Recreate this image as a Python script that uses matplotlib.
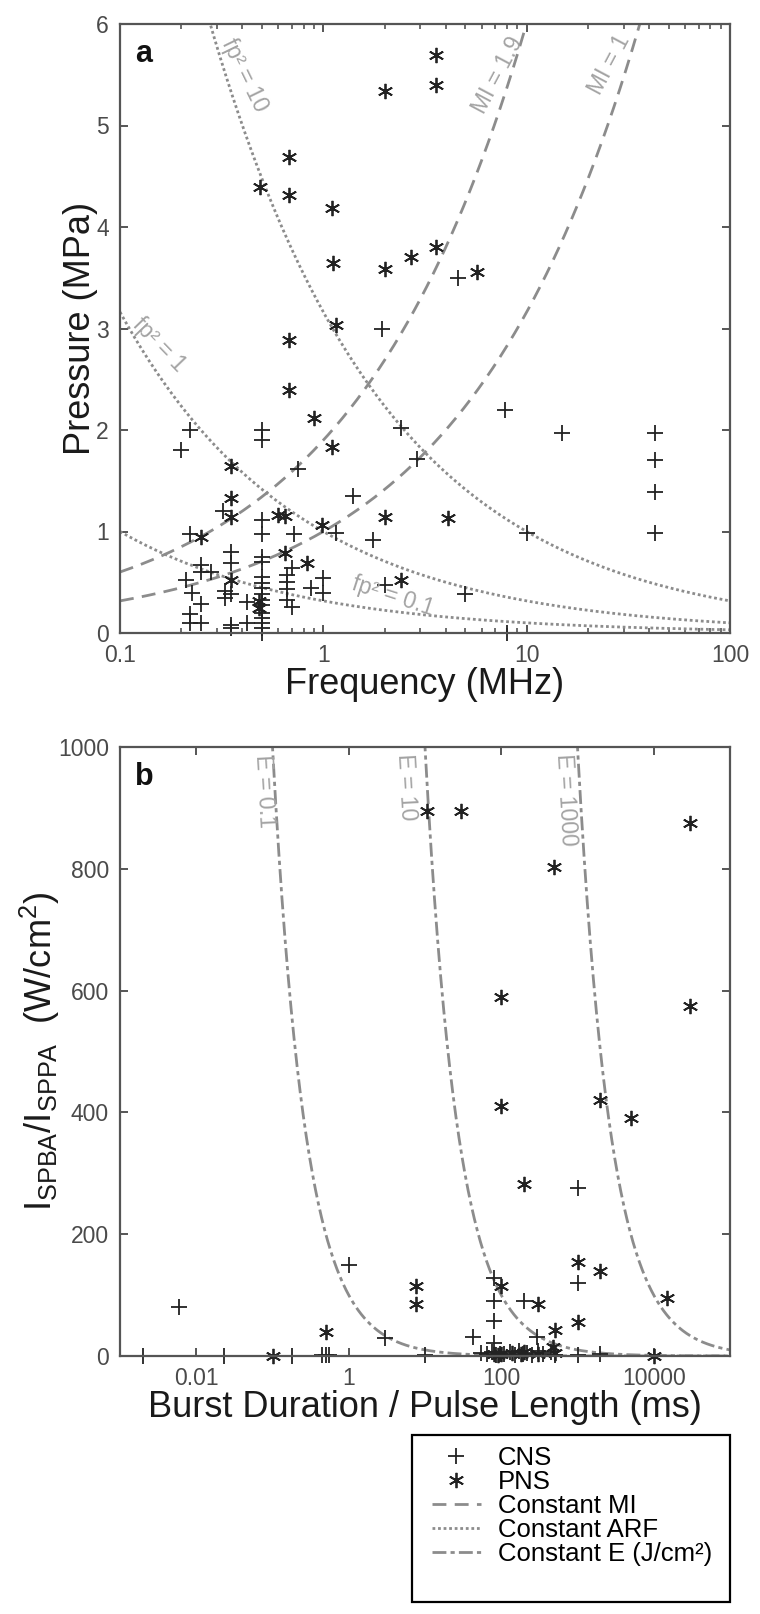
import numpy as np
import matplotlib
matplotlib.use('Agg')
import matplotlib.pyplot as plt
from matplotlib.lines import Line2D
from matplotlib.patches import Rectangle

plt.rcParams['font.family'] = ['Liberation Sans', 'DejaVu Sans']
plt.rcParams['mathtext.fontset'] = 'custom'
plt.rcParams['mathtext.rm'] = 'Liberation Sans'
plt.rcParams['mathtext.it'] = 'Liberation Sans:italic'

# ---- panel a: frequency (MHz) vs pressure (MPa)
cns_freq = [0.22, 0.2, 0.5, 0.5, 0.75, 0.32, 1.4, 0.5, 0.5, 0.72, 1.16, 1.76, 0.22,
            0.35, 0.35, 1.0, 1.0, 0.87, 2.0, 5.0, 8.0, 7.8, 15, 43, 43, 43, 43, 10,
            2.9, 2.4, 1.95, 4.6, 0.21, 0.225, 0.25, 0.22, 0.22, 0.25, 0.25, 0.25, 0.28,
            0.33, 0.35, 0.33, 0.35, 0.35, 0.42, 0.42,
            0.5, 0.5, 0.5, 0.5, 0.5, 0.5, 0.5, 0.5, 0.5, 0.5, 0.5, 0.5, 0.5,
            0.7, 0.66, 0.66, 0.66, 0.66, 0.7]
cns_pres = [2.0, 1.8, 2.0, 1.9, 1.62, 1.2, 1.35, 1.11, 0.98, 0.98, 0.99, 0.92, 0.98,
            0.8, 0.69, 0.54, 0.39, 0.44, 0.47, 0.38, 0.0, 2.2, 1.97, 1.97, 1.7, 1.39, 0.99, 0.99,
            1.71, 2.02, 3.0, 3.5, 0.52, 0.39, 0.29, 0.19, 0.1, 0.1, 0.67, 0.6, 0.6,
            0.41, 0.38, 0.34, 0.08, 0.05, 0.31, 0.1,
            0.75, 0.7, 0.55, 0.49, 0.44, 0.38, 0.33, 0.28, 0.2, 0.15, 0.1, 0.05, 0.0,
            0.64, 0.57, 0.5, 0.43, 0.33, 0.26]

pns_freq = [0.9, 1.1, 0.35, 0.35, 0.35, 0.6, 0.65, 0.98, 2.0, 0.25, 0.65, 0.83, 0.35,
            2.4, 4.1, 3.6, 3.6, 2.0, 3.6, 2.7, 2.0, 5.7, 0.68, 0.49, 0.68, 1.1, 1.12,
            1.16, 0.68, 0.68, 0.48, 0.48]
pns_pres = [2.12, 1.83, 1.65, 1.33, 1.14, 1.16, 1.15, 1.06, 1.14, 0.95, 0.79, 0.69, 0.52,
            0.52, 1.13, 5.69, 5.4, 5.34, 3.8, 3.7, 3.59, 3.56, 4.69, 4.39, 4.32, 4.19, 3.65,
            3.03, 2.89, 2.39, 0.32, 0.25]

mi_values = [1.9, 1]
mi_labels = ['MI = 1.9', 'MI = 1']
mi_label_pos = [(7.2, 5.5), (25.5, 5.6)]
arf_values = [10, 1, 0.1]
arf_labels = ['fp² = 10', 'fp² = 1', 'fp² = 0.1']
arf_label_pos = [(0.41, 5.5), (0.155, 2.84), (2.2, 0.36)]
arf_label_rot = [-64, -46, -18]

# ---- panel b: burst duration (ms) vs intensity (W/cm2)
cns_dur = [0.002, 0.006, 0.023, 0.18, 0.45, 0.5, 0.55, 1.0, 3, 10, 43, 80, 80, 80, 80,
           200, 290, 1000, 1000, 1000, 2000,
           55, 65, 75, 85, 95, 110, 130, 150, 170, 190, 220, 250, 300, 350, 450, 500]
cns_int = [0, 80, 0, 0, 2, 2, 2, 150, 30, 2, 31, 128, 90, 57, 21,
           90, 32, 276, 120, 2, 4,
           5, 3, 6, 2, 4, 3, 6, 2, 8, 3, 5, 2, 8, 3, 6, 2]

pns_dur = [0.1, 0.5, 7.7, 7.7, 10.6, 30, 490, 30000, 100, 30000, 100, 2000, 5000, 200,
           1000, 2000, 1000, 15000, 10000, 500, 480, 100, 300,
           80, 90, 100, 140, 180, 200, 300, 500]
pns_int = [0, 40, 115, 85, 895, 895, 803, 875, 590, 575, 410, 420, 390, 283,
           155, 140, 56, 95, 0, 42, 15, 115, 85,
           3, 1, 4, 5, 3, 6, 4, 5]

e_values = [0.1, 10, 1000]
e_labels = ['E = 0.1', 'E = 10', 'E = 1000']
e_label_pos = [(0.078, 928), (5.6, 934), (700, 913)]

spine_col = '#555555'
tick_col = '#4a4a4a'
curve_col = '#8c8c8c'
label_col = '#a3a3a3'
mark_col = '#222222'

W, H = 760, 1614
fig = plt.figure(figsize=(W / 100, H / 100), dpi=100)
ax1 = fig.add_axes([120/W, 1 - 633/H, 610/W, 609/H])
ax2 = fig.add_axes([120/W, 1 - 1356/H, 610/W, 609/H])


def style(ax):
    for s in ax.spines.values():
        s.set_color(spine_col)
        s.set_linewidth(1.6)
    ax.tick_params(which='both', direction='in', top=True, right=True,
                   color=spine_col, labelcolor=tick_col, labelsize=16.5, pad=8)
    ax.tick_params(which='major', length=6, width=1.4)
    ax.tick_params(which='minor', length=3.5, width=1.2)


star = (6, 2, 0)

# panel a
f = np.logspace(-1, 2, 500)
for mi, lab, pos in zip(mi_values, mi_labels, mi_label_pos):
    ax1.plot(f, mi * np.sqrt(f), color=curve_col, lw=2, ls=(0, (5, 3)))
    ax1.text(pos[0], pos[1], lab, color=label_col, fontsize=16.5, rotation=62,
             ha='center', va='center', rotation_mode='anchor')
for c, lab, pos, rot in zip(arf_values, arf_labels, arf_label_pos, arf_label_rot):
    ax1.plot(f, np.sqrt(c / f), color=curve_col, lw=2, ls=(0, (1, 1)))
    ax1.text(pos[0], pos[1], lab, color=label_col, fontsize=16.5, rotation=rot,
             ha='center', va='center', rotation_mode='anchor')
ax1.plot(cns_freq, cns_pres, ls='none', marker='+', ms=11, mew=1.3, color=mark_col, clip_on=False)
ax1.plot(pns_freq, pns_pres, ls='none', marker=star, ms=11, mew=1.3, color=mark_col, clip_on=False)
ax1.set_xscale('log')
ax1.set_xlim(0.1, 100)
ax1.set_ylim(0, 6)
ax1.set_xticks([0.1, 1, 10, 100], ['0.1', '1', '10', '100'])
ax1.set_yticks(range(7))
style(ax1)
ax1.set_xlabel('Frequency (MHz)', fontsize=26, color='#1a1a1a', labelpad=0)
ax1.set_ylabel('Pressure (MPa)', fontsize=26, color='#1a1a1a', labelpad=-1)
ax1.text(0.025, 0.975, 'a', transform=ax1.transAxes, fontsize=22, fontweight='bold',
         va='top', ha='left', color='#111111')

# panel b
t = np.logspace(-3, 5, 800)
for e, lab, pos in zip(e_values, e_labels, e_label_pos):
    ax2.plot(t, e * 1000 / t, color=curve_col, lw=2, ls=(0, (5, 1.5, 1.5, 1.5)))
    ax2.text(pos[0], pos[1], lab, color=label_col, fontsize=16.5, rotation=-87,
             ha='center', va='center', rotation_mode='anchor')
ax2.plot(cns_dur, cns_int, ls='none', marker='+', ms=11, mew=1.3, color=mark_col, clip_on=False)
ax2.plot(pns_dur, pns_int, ls='none', marker=star, ms=11, mew=1.3, color=mark_col, clip_on=False)
ax2.set_xscale('log')
ax2.set_xlim(1e-3, 1e5)
ax2.set_ylim(0, 1000)
ax2.set_xticks([0.01, 1, 100, 10000], ['0.01', '1', '100', '10000'])
ax2.xaxis.set_minor_locator(matplotlib.ticker.NullLocator())
ax2.set_yticks(range(0, 1001, 200))
style(ax2)
ax2.set_xlabel('Burst Duration / Pulse Length (ms)', fontsize=26, color='#1a1a1a', labelpad=0)
ax2.set_ylabel(r'$\mathrm{I_{SPBA}/I_{SPPA}}$  (W/cm$^{\mathrm{2}}$)', fontsize=26,
               color='#1a1a1a', labelpad=-3)
ax2.text(0.025, 0.975, 'b', transform=ax2.transAxes, fontsize=22, fontweight='bold',
         va='top', ha='left', color='#111111')

# legend: frameless entries inside a separately drawn box
handles = [
    Line2D([], [], ls='none', marker='+', ms=11, mew=1.3, color=mark_col),
    Line2D([], [], ls='none', marker=star, ms=11, mew=1.3, color=mark_col),
    Line2D([], [], color=curve_col, lw=2, ls=(0, (5, 3))),
    Line2D([], [], color=curve_col, lw=2, ls=(0, (1, 1))),
    Line2D([], [], color=curve_col, lw=2, ls=(0, (5, 1.5, 1.5, 1.5))),
]
labels = ['CNS', 'PNS', 'Constant MI', 'Constant ARF', 'Constant E (J/cm²)']
fig.legend(handles, labels, loc='upper left', bbox_to_anchor=(432/W, 1 - 1446/H),
           frameon=False, fontsize=18.5, handlelength=1.9, labelspacing=0.0,
           borderpad=0, handletextpad=0.65, borderaxespad=0)
fig.add_artist(Rectangle((412/W, 1 - 1602/H), 318/W, 167/H, transform=fig.transFigure,
                         fill=False, edgecolor='black', lw=1.6))

fig.savefig('out.png', dpi=100)
